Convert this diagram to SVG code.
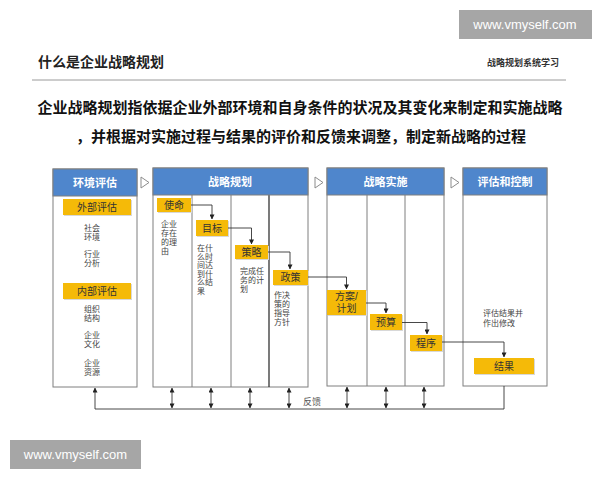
<svg xmlns="http://www.w3.org/2000/svg" width="600" height="480" viewBox="0 0 600 480">
<defs>
<style>
.cjk{font-family:"Liberation Sans","Noto Sans CJK SC",sans-serif}
.col{fill:#fff;stroke:#7f7f7f;stroke-width:1}
.hdr{fill:#4F86CC;stroke:#7f7f7f;stroke-width:1}
.ht{font-family:"Liberation Sans","Noto Sans CJK SC",sans-serif;font-size:11px;font-weight:bold;fill:#fff;text-anchor:middle}
.yb{fill:#F5BA08}
.ys{fill:#d8d8d8}
.yt{font-family:"Liberation Sans","Noto Sans CJK SC",sans-serif;font-size:10px;fill:#333;text-anchor:middle}
.st{font-family:"Liberation Sans","Noto Sans CJK SC",sans-serif;font-size:8px;fill:#444}
.stc{font-family:"Liberation Sans","Noto Sans CJK SC",sans-serif;font-size:8px;fill:#444;text-anchor:middle}
.div{stroke:#7f7f7f;stroke-width:1}
.con{fill:none;stroke:#333;stroke-width:0.9}
.tri{fill:#fff;stroke:#8c8c8c;stroke-width:1}
</style>
<marker id="ah" viewBox="0 0 6 6" refX="5.5" refY="3" markerWidth="5" markerHeight="5" orient="auto-start-reverse" markerUnits="userSpaceOnUse">
<path d="M0,0 L6,3 L0,6 Z" fill="#222"/>
</marker>
</defs>
<rect width="600" height="480" fill="#fff"/>

<g id="watermark-top">
<rect x="459" y="10" width="133" height="29" fill="#a6a6a6"/>
<text x="525" y="29" font-family="Liberation Sans, sans-serif" font-size="13" fill="#fff" text-anchor="middle">www.vmyself.com</text>
</g>
<g id="title">
<text x="38" y="67" class="cjk" font-size="14" font-weight="bold" fill="#222">什么是企业战略规划</text>
<text x="559" y="66" class="cjk" font-size="9" font-weight="bold" fill="#333" text-anchor="end">战略规划系统学习</text>
<line x1="32" y1="80" x2="566" y2="80" stroke="#9a9a9a" stroke-width="1"/>
</g>
<g id="definition">
<text x="300" y="113" class="cjk" font-size="15" font-weight="bold" fill="#111" text-anchor="middle">企业战略规划指依据企业外部环境和自身条件的状况及其变化来制定和实施战略</text>
<text x="301" y="142" class="cjk" font-size="15" font-weight="bold" fill="#111" text-anchor="middle">，并根据对实施过程与结果的评价和反馈来调整，制定新战略的过程</text>
</g>

<g id="col-env">
<rect class="col" x="53" y="169" width="84" height="218"/>
<rect class="hdr" x="53" y="169" width="84" height="27"/>
<text class="ht" x="95" y="187">环境评估</text>
<rect class="ys" x="64" y="200" width="68" height="16"/>
<rect class="yb" x="63" y="199" width="68" height="16"/>
<text class="yt" x="97" y="211">外部评估</text>
<text class="stc" x="92" y="231">社会</text>
<text class="stc" x="92" y="240">环境</text>
<text class="stc" x="92" y="257">行业</text>
<text class="stc" x="92" y="266">分析</text>
<rect class="ys" x="64" y="284" width="68" height="16"/>
<rect class="yb" x="63" y="283" width="68" height="16"/>
<text class="yt" x="97" y="295">内部评估</text>
<text class="stc" x="92" y="312">组织</text>
<text class="stc" x="92" y="321">结构</text>
<text class="stc" x="92" y="338">企业</text>
<text class="stc" x="92" y="347">文化</text>
<text class="stc" x="92" y="366">企业</text>
<text class="stc" x="92" y="375">资源</text>
</g>
<polygon class="tri" points="141,177 149,182.5 141,188"/>

<g id="col-plan">
<rect class="col" x="153" y="168" width="155" height="219"/>
<line class="div" x1="192" y1="195" x2="192" y2="387"/>
<line class="div" x1="231" y1="195" x2="231" y2="387"/>
<line x1="269" y1="195" x2="269" y2="387" stroke="#333" stroke-width="1.3"/>
<rect class="hdr" x="153" y="168" width="155" height="27"/>
<text class="ht" x="230" y="186">战略规划</text>
</g>
<g id="node-mission">
<rect class="ys" x="158" y="199" width="34" height="14"/>
<rect class="yb" x="157" y="198" width="34" height="14"/>
<text class="yt" x="174" y="209">使命</text>
<text class="st" x="161" y="227">企业</text>
<text class="st" x="161" y="236">存在</text>
<text class="st" x="161" y="245">的理</text>
<text class="st" x="161" y="254">由</text>
</g>
<g id="node-goal">
<rect class="ys" x="197" y="221" width="32" height="16"/>
<rect class="yb" x="196" y="220" width="32" height="16"/>
<text class="yt" x="212" y="232">目标</text>
<text class="st" x="197" y="251">在什</text>
<text class="st" x="197" y="259.5">么时</text>
<text class="st" x="197" y="268">间达</text>
<text class="st" x="197" y="276.5">到什</text>
<text class="st" x="197" y="285">么结</text>
<text class="st" x="197" y="293.5">果</text>
</g>
<g id="node-strategy">
<rect class="ys" x="236" y="246" width="33" height="14"/>
<rect class="yb" x="235" y="245" width="33" height="14"/>
<text class="yt" x="251.5" y="256">策略</text>
<text class="st" x="240" y="274">完成任</text>
<text class="st" x="240" y="283">务的计</text>
<text class="st" x="240" y="292">划</text>
</g>
<g id="node-policy">
<rect class="ys" x="274" y="271" width="35" height="15"/>
<rect class="yb" x="273" y="270" width="35" height="15"/>
<text class="yt" x="290.5" y="281">政策</text>
<text class="st" x="274" y="298">作决</text>
<text class="st" x="274" y="307">策的</text>
<text class="st" x="274" y="316">指导</text>
<text class="st" x="274" y="325">方针</text>
</g>
<polygon class="tri" points="315,177 323,182.5 315,188"/>

<g id="col-impl">
<rect class="col" x="327" y="168" width="117" height="218"/>
<line class="div" x1="367" y1="195" x2="367" y2="386"/>
<line class="div" x1="405" y1="195" x2="405" y2="386"/>
<rect class="hdr" x="327" y="168" width="117" height="27"/>
<text class="ht" x="385.5" y="186">战略实施</text>
</g>
<g id="node-plan">
<rect class="ys" x="328" y="291" width="39" height="25"/>
<rect class="yb" x="327" y="290" width="39" height="25"/>
<text class="yt" x="346.5" y="300">方案/</text>
<text class="yt" x="346.5" y="312">计划</text>
</g>
<g id="node-budget">
<rect class="ys" x="371" y="315" width="32" height="16"/>
<rect class="yb" x="370" y="314" width="32" height="16"/>
<text class="yt" x="386" y="326">预算</text>
</g>
<g id="node-procedure">
<rect class="ys" x="411" y="336" width="32" height="16"/>
<rect class="yb" x="410" y="335" width="32" height="16"/>
<text class="yt" x="426" y="347">程序</text>
</g>
<polygon class="tri" points="451,177 459,182.5 451,188"/>

<g id="col-eval">
<rect class="col" x="463" y="168" width="84" height="218"/>
<rect class="hdr" x="463" y="168" width="84" height="27"/>
<text class="ht" x="505" y="186">评估和控制</text>
<text class="st" x="483" y="316">评估结果并</text>
<text class="st" x="483" y="326">作出修改</text>
</g>
<g id="node-result">
<rect class="ys" x="475" y="359" width="60" height="16"/>
<rect class="yb" x="474" y="358" width="60" height="16"/>
<text class="yt" x="504" y="370">结果</text>
</g>

<g id="connectors">
<path class="con" d="M191,205 H212 V219" marker-end="url(#ah)"/>
<path class="con" d="M228,228 H251.5 V244" marker-end="url(#ah)"/>
<path class="con" d="M268,252 H290 V269" marker-end="url(#ah)"/>
<path class="con" d="M308,277 H346.5 V289" marker-end="url(#ah)"/>
<path class="con" d="M366,303 H386 V313" marker-end="url(#ah)"/>
<path class="con" d="M402,322.5 H427 V334" marker-end="url(#ah)"/>
<path class="con" d="M442,342 H504 V357" marker-end="url(#ah)"/>
<path class="con" d="M504,386 V409 H95 V388" marker-end="url(#ah)"/>
<line class="con" x1="172" y1="388" x2="172" y2="408" marker-start="url(#ah)" marker-end="url(#ah)"/>
<line class="con" x1="211" y1="388" x2="211" y2="408" marker-start="url(#ah)" marker-end="url(#ah)"/>
<line class="con" x1="250" y1="388" x2="250" y2="408" marker-start="url(#ah)" marker-end="url(#ah)"/>
<line class="con" x1="289" y1="388" x2="289" y2="408" marker-start="url(#ah)" marker-end="url(#ah)"/>
<line class="con" x1="347" y1="387" x2="347" y2="408" marker-start="url(#ah)" marker-end="url(#ah)"/>
<line class="con" x1="386" y1="387" x2="386" y2="408" marker-start="url(#ah)" marker-end="url(#ah)"/>
<line class="con" x1="424" y1="387" x2="424" y2="408" marker-start="url(#ah)" marker-end="url(#ah)"/>
<text x="312" y="405" class="cjk" font-size="9" fill="#555" text-anchor="middle">反馈</text>
</g>

<g id="watermark-bottom">
<rect x="10" y="440" width="131" height="29" fill="#a6a6a6"/>
<text x="75.5" y="459" font-family="Liberation Sans, sans-serif" font-size="13" fill="#fff" text-anchor="middle">www.vmyself.com</text>
</g>
</svg>
